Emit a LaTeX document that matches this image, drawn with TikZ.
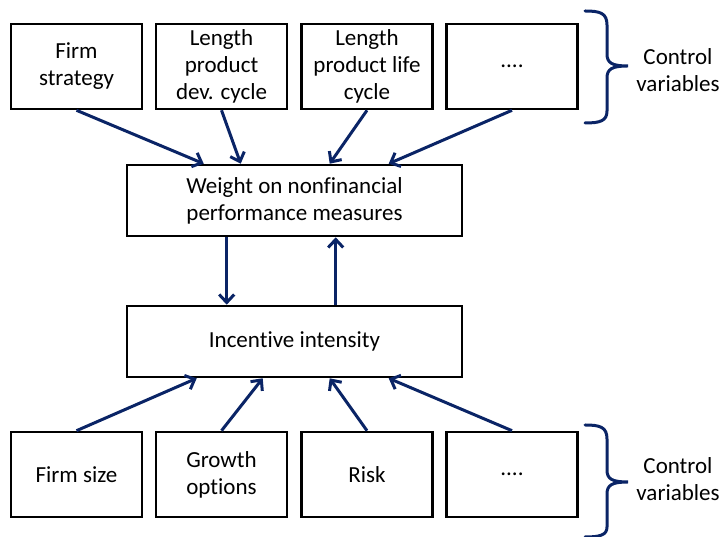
\documentclass[tikz,border=0pt]{standalone}
\usepackage{fontspec}
\setmainfont{Carlito}[Ligatures={NoCommon}]
\usetikzlibrary{arrows.meta}
\definecolor{navy}{RGB}{10,36,102}
\begin{document}
\begin{tikzpicture}[x=1pt,y=1pt,
  every node/.style={font=\fontsize{23}{27}\selectfont, align=center, inner sep=0pt},
  sbox/.style={draw=black, line width=2.6pt, minimum width=131pt, minimum height=85pt},
  wbox/.style={draw=black, line width=2.6pt, minimum width=335pt, minimum height=71pt},
  conn/.style={draw=navy, line width=3pt, -{Straight Barb[length=8pt,width=15pt,line width=3pt]}},
  brace/.style={draw=navy, line width=3pt, line cap=round}]
\useasboundingbox (0,0) rectangle (723,537);
% top row
\node[sbox] (t1) at (76.5,470.5) {Firm\\strategy};
\node[sbox] (t2) at (221.5,470.5) {Length\\product\\dev. cycle};
\node[sbox] (t3) at (367,470.5) {Length\\product life\\cycle};
\node[sbox] (t4) at (512,470.5) {....};
% middle
\node[wbox] (w) at (294.5,336.5) {Weight on nonfinancial\\performance measures};
\node[wbox] (ii) at (294.5,195.5) {Incentive intensity};
% bottom row
\node[sbox] (b1) at (76.5,62.5) {Firm size};
\node[sbox] (b2) at (221.5,62.5) {Growth\\options};
\node[sbox] (b3) at (367,62.5) {Risk};
\node[sbox] (b4) at (512,62.5) {....};
% control labels
\node (c1) at (678,467) {Control\\variables};
\node (c2) at (678,58) {Control\\variables};
% arrows top
\draw[conn] (t1.south) -- ([xshift=78pt]w.north west);
\draw[conn] (t2.south) -- ([xshift=115pt]w.north west);
\draw[conn] (t3.south) -- ([xshift=204pt]w.north west);
\draw[conn] (t4.south) -- ([xshift=263pt]w.north west);
% middle arrows
\draw[conn] ([xshift=101pt]w.south west) -- ([xshift=101pt]ii.north west);
\draw[conn] ([xshift=210pt]ii.north west) -- ([xshift=210pt]w.south west);
% bottom arrows
\draw[conn] (b1.north) -- ([xshift=71pt]ii.south west);
\draw[conn] (b2.north) -- ([xshift=137pt]ii.south west);
\draw[conn] (b3.north) -- ([xshift=204pt]ii.south west);
\draw[conn] (b4.north) -- ([xshift=263pt]ii.south west);
% braces
\coordinate (br1) at (585,526);
\draw[brace] (br1) .. controls (600,526) and (607,524) .. (607,512)
  -- (607,483) .. controls (607,474) and (612,471) .. (628,471)
  .. controls (612,471) and (607,468) .. (607,459)
  -- (607,426) .. controls (607,416) and (600,414) .. (585,414);
\coordinate (br2) at (585,112);
\draw[brace] (br2) .. controls (600,112) and (607,110) .. (607,98)
  -- (607,67) .. controls (607,58) and (612,55) .. (628,55)
  .. controls (612,55) and (607,52) .. (607,43)
  -- (607,10) .. controls (607,2) and (600,0) .. (585,0);
\end{tikzpicture}
\end{document}
